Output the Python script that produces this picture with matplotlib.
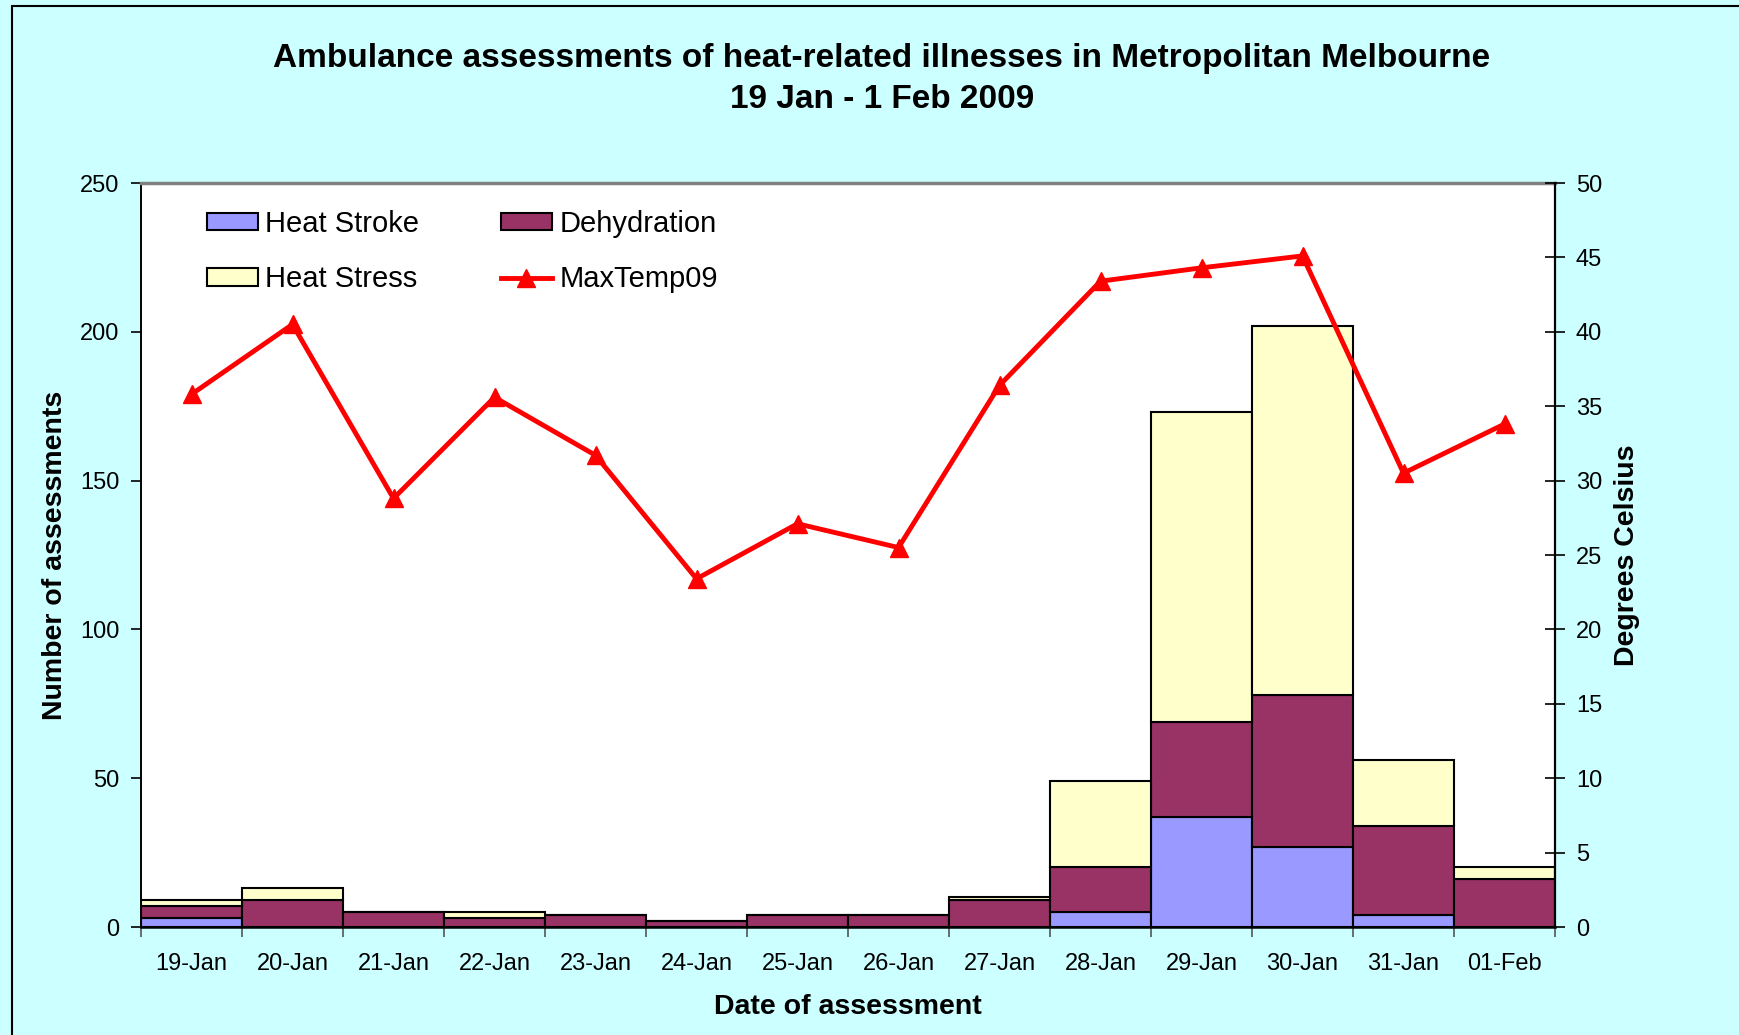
import numpy as np
import matplotlib.pyplot as plt
from matplotlib.patches import Rectangle

plt.rcParams['font.family'] = ['Liberation Sans', 'DejaVu Sans']

dates = ['19-Jan', '20-Jan', '21-Jan', '22-Jan', '23-Jan', '24-Jan', '25-Jan',
         '26-Jan', '27-Jan', '28-Jan', '29-Jan', '30-Jan', '31-Jan', '01-Feb']
heat_stroke = [3, 0, 0, 0, 0, 0, 0, 0, 0, 5, 37, 27, 4, 0]
dehydration = [4, 9, 5, 3, 4, 2, 4, 4, 9, 15, 32, 51, 30, 16]
heat_stress = [2, 4, 0, 2, 0, 0, 0, 0, 1, 29, 104, 124, 22, 4]
max_temp = [35.8, 40.5, 28.8, 35.6, 31.7, 23.4, 27.1, 25.5, 36.4, 43.4, 44.3, 45.1, 30.5, 33.8]

W, H = 1739, 1035
fig = plt.figure(figsize=(W / 100, H / 100), dpi=100)
fig.patch.set_facecolor('#CCFFFF')
fig.patches.append(Rectangle((12 / W, -0.05), 1.1, 1 - 6 / H + 0.05, transform=fig.transFigure,
                             fill=False, edgecolor='black', linewidth=1.5))

ax = fig.add_axes([141 / W, (H - 927) / H, (1555 - 141) / W, (927 - 183) / H])
ax.set_facecolor('white')
x = np.arange(len(dates))
hs = np.array(heat_stroke)
dh = np.array(dehydration)
st = np.array(heat_stress)
kw = dict(width=1.0, edgecolor='black', linewidth=1.5)
b1 = ax.bar(x, hs, color='#9999FF', label='Heat Stroke', **kw)
b2 = ax.bar(x, dh, bottom=hs, color='#993366', label='Dehydration', **kw)
b3 = ax.bar(x, st, bottom=hs + dh, color='#FFFFCC', label='Heat Stress', **kw)

ax.set_xlim(-0.5, len(dates) - 0.5)
ax.set_ylim(0, 250)
ax.set_yticks(range(0, 251, 50))
ax.set_xticks(x)
ax.set_xticklabels(dates, fontsize=17)
ax.set_xticks(np.arange(-0.5, len(dates), 1), minor=True)
ax.tick_params(axis='x', which='major', length=0, pad=19)
ax.tick_params(axis='x', which='minor', length=7, width=1.2, direction='out', color='#555555')
ax.tick_params(axis='y', labelsize=17, length=7, width=1.2, direction='out', pad=8.5)
ax.spines['top'].set_color('#808080')
ax.spines['top'].set_linewidth(2.5)
ax.spines['right'].set_visible(False)
ax.spines['left'].set_linewidth(1.4)
ax.spines['bottom'].set_linewidth(1.8)

ax2 = ax.twinx()
ln, = ax2.plot(x, max_temp, color='#FF0000', linewidth=3.5, marker='^', markersize=13,
               label='MaxTemp09')
ax2.set_ylim(0, 50)
ax2.set_yticks(range(0, 51, 5))
ax2.tick_params(axis='y', labelsize=17, length=15, width=1.2, direction='inout', pad=7.5)
ax2.spines['right'].set_linewidth(1.6)
for s in ['top', 'left', 'bottom']:
    ax2.spines[s].set_visible(False)

ax2.legend([b1, b3, b2, ln], ['Heat Stroke', 'Heat Stress', 'Dehydration', 'MaxTemp09'],
           ncol=2, loc='upper left', bbox_to_anchor=(0.028, 0.999), frameon=False,
           fontsize=21, handlelength=1.75, handleheight=0.55, handletextpad=0.25,
           columnspacing=2.8, labelspacing=0.93)

fig.text(0.507, 1 - 58.5 / H, 'Ambulance assessments of heat-related illnesses in Metropolitan Melbourne',
         ha='center', va='center', fontsize=24, fontweight='bold')
fig.text(0.507, 1 - 99.5 / H, '19 Jan - 1 Feb 2009', ha='center', va='center',
         fontsize=24, fontweight='bold')
fig.text(55 / W, 1 - 555 / H, 'Number of assessments', rotation=90, ha='center', va='center',
         fontsize=20.5, fontweight='bold')
fig.text(1627 / W, 1 - 555 / H, 'Degrees Celsius', rotation=90, ha='center', va='center',
         fontsize=20.5, fontweight='bold')
fig.text(848 / W, 1 - 1007 / H, 'Date of assessment', ha='center', va='center',
         fontsize=20.5, fontweight='bold')

fig.savefig('out.png', dpi=100, facecolor=fig.get_facecolor())
